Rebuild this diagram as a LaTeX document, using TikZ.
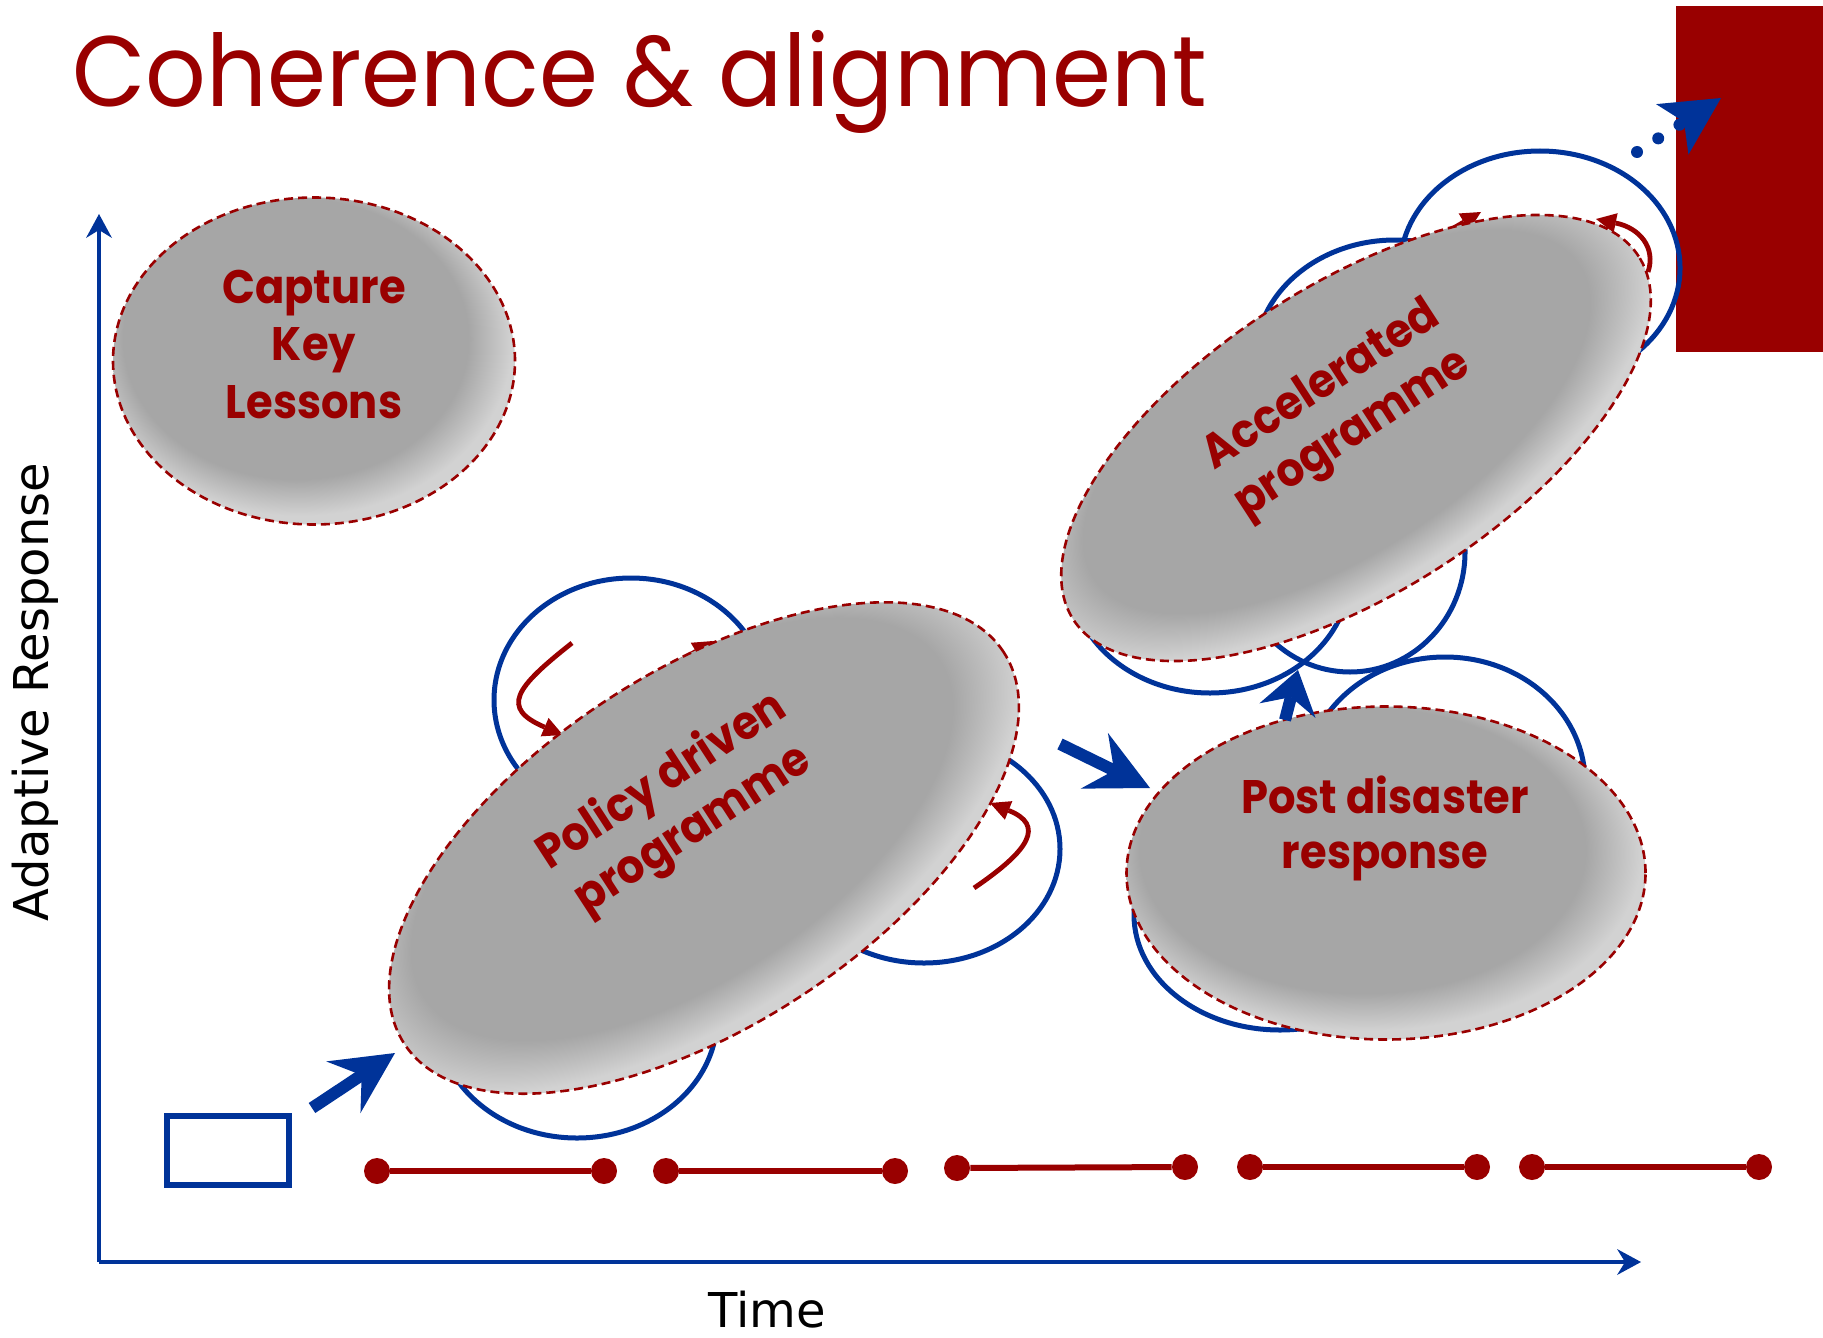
\documentclass[tikz,border=0pt]{standalone}
\usepackage{fontspec}
\setmainfont{DejaVu Sans}
\newfontfamily\titlefont{Poppins}[FakeStretch=0.95]
\newfontfamily\lblfont{Poppins}[FakeStretch=0.92]
\usetikzlibrary{arrows.meta,shapes.geometric,calc}
\definecolor{dred}{RGB}{153,0,0}
\definecolor{dblue}{RGB}{0,51,153}
\definecolor{ellgray}{RGB}{166,166,166}
\definecolor{elllight}{RGB}{210,210,210}
\pgfdeclareradialshading{ellfade}{\pgfpoint{-4bp}{6bp}}{color(0bp)=(ellgray); color(21.5bp)=(ellgray); color(26.5bp)=(elllight); color(50bp)=(elllight)}
\pgfdeclareradialshading{ellfaderot}{\pgfpoint{-1bp}{7bp}}{color(0bp)=(ellgray); color(21.5bp)=(ellgray); color(26.5bp)=(elllight); color(50bp)=(elllight)}
\newcommand\fadeell[6]{\begin{scope}[transform canvas={shift={(#1,#2)},rotate=#3}]\shade[shading=#6] (0,0) ellipse [x radius=#4pt, y radius=#5pt];\end{scope}}
\tikzset{
  bloop/.style={draw=dblue, line width=2.5pt},
  redarr/.style={draw=dred, line width=2.4pt, -{Triangle[length=10pt,width=10pt,line width=0pt]}},
  ellborder/.style={ellipse, draw=dred, line width=1.3pt, dash pattern=on 4.5pt off 2.5pt, inner sep=0pt},
  lbl/.style={text=dred, font=\lblfont\bfseries\fontsize{23.5}{28.75}\selectfont, align=center},
  bigarrow/.style={draw=dblue, line width=6pt, -{Stealth[length=31pt,width=31pt,inset=11pt,line width=0pt]}},
  axisline/.style={draw=dblue, line width=2pt, -{Stealth[length=12pt,width=13pt,inset=4pt,line width=0pt]}},
  tdot/.style={circle, fill=dred, inner sep=0pt, minimum size=13pt},
  tline/.style={draw=dred, line width=3pt},
}
\begin{document}
\begin{tikzpicture}[x=0.5pt,y=-0.5pt]
\useasboundingbox (0,0) rectangle (1823,1337);
% red block top right
\fill[dred] (1676,6) rectangle (1823,352);
% title
\node[anchor=base west, inner sep=0pt, text=dred, font=\titlefont\fontsize{50}{60}\selectfont] (title) at (72,107) {Coherence \& alignment};
% axes
\coordinate (org) at (99,1262);
\coordinate (ytop) at (99,214);
\coordinate (xend) at (1641,1262);
\draw[axisline] (org) -- (ytop);
\draw[axisline] (org) -- (xend);
\node[rotate=90, inner sep=0pt, font=\fontsize{24}{28}\selectfont] (ylab) at (35,692) {Adaptive Response};
\node[anchor=base, inner sep=0pt, font=\fontsize{24}{28}\selectfont] (xlab) at (767,1327) {Time};
% blue loops
\draw[bloop] (631,700) ellipse [x radius=68.5pt, y radius=61pt];
\draw[bloop] (924,849) ellipse [x radius=68pt, y radius=57pt];
\draw[bloop] (577,1018) ellipse [x radius=70pt, y radius=60pt];
\draw[bloop] (1445,782) ellipse [x radius=70pt, y radius=62.5pt];
\draw[bloop] (1280,915) ellipse [x radius=73pt, y radius=57.5pt];
\draw[bloop] (1210,573) ellipse [x radius=70pt, y radius=60pt];
\draw[bloop] (1350,552) ellipse [x radius=57.5pt, y radius=60pt];
\draw[bloop] (1395,360) ellipse [x radius=70pt, y radius=60pt];
\draw[bloop] (1540,268) ellipse [x radius=70pt, y radius=58.5pt];
% red loop arrows
\draw[redarr] (572,643) .. controls (515,688) and (500,708) .. (563,735);
\draw[redarr] (655,676) -- (713,641);
\draw[redarr] (974,888) .. controls (1030,850) and (1045,825) .. (990,803);
\draw[redarr] (1648,272) .. controls (1656,248) and (1640,228) .. (1596,219);
\draw[redarr] (1440,236) -- (1481,212);
% ellipses
\fadeell{314}{361}{0}{100.5}{81.75}{ellfade}
\node[ellborder, minimum width=201pt, minimum height=163.5pt] (cap) at (314,361) {};
\fadeell{704}{848}{33.2}{179}{88.5}{ellfaderot}
\node[ellborder, minimum width=358pt, minimum height=177pt, rotate=33.2] (pol) at (704,848) {};
\fadeell{1356}{438}{32.7}{168}{77}{ellfaderot}
\node[ellborder, minimum width=336pt, minimum height=154pt, rotate=32.7] (acc) at (1356,438) {};
\fadeell{1386}{873}{0}{129.75}{83.25}{ellfade}
\node[ellborder, minimum width=259.5pt, minimum height=166.5pt] (post) at (1386,873) {};
% labels
\node[lbl, anchor=base] (cap1) at (314,303) {Capture};
\node[lbl, anchor=base] (cap2) at (314,360) {Key};
\node[lbl, anchor=base] (cap3) at (314,418) {Lessons};
\node[lbl, anchor=base] (post1) at (1385,813) {Post disaster};
\node[lbl, anchor=base] (post2) at (1385,868) {response};
\node[lbl, rotate=33] (poltxt) at (678,806) {Policy driven\\programme};
\node[lbl, rotate=33] (acctxt) at (1338,411) {Accelerated\\programme};
% start box
\node[draw=dblue, line width=3pt, minimum width=61pt, minimum height=34.5pt, inner sep=0pt] (box) at (228,1150.5) {};
% big arrows
\coordinate (a1s) at (312,1108); \coordinate (a1e) at (395,1053);
\coordinate (a2s) at (1060,744); \coordinate (a2e) at (1150,788);
\coordinate (a3s) at (1285,720); \coordinate (a3e) at (1298,670);
\draw[bigarrow] (a1s) -- (a1e);
\draw[bigarrow] (a2s) -- (a2e);
\draw[draw=dblue, line width=6pt, -{Stealth[length=21pt,width=29pt,inset=7pt,line width=0pt]}] (a3s) -- (a3e);
% dotted arrow
\coordinate (d0) at (1637,152); \coordinate (d1) at (1721,98);
\draw[dblue, line width=6pt, line cap=round, dash pattern=on 0pt off 12.6pt, -{Stealth[length=29pt,width=30pt,inset=7pt,line width=0pt]}] (d0) -- (d1);
% timeline
\node[tdot] (t1a) at (377,1171) {}; \node[tdot] (t1b) at (604,1171) {};
\node[tdot] (t2a) at (666,1171) {}; \node[tdot] (t2b) at (895,1171) {};
\node[tdot] (t3a) at (957,1168) {}; \node[tdot] (t3b) at (1185,1167) {};
\node[tdot] (t4a) at (1250,1167) {}; \node[tdot] (t4b) at (1477,1167) {};
\node[tdot] (t5a) at (1532,1167) {}; \node[tdot] (t5b) at (1759,1167) {};
\draw[tline] (t1a) -- (t1b);
\draw[tline] (t2a) -- (t2b);
\draw[tline] (t3a) -- (t3b);
\draw[tline] (t4a) -- (t4b);
\draw[tline] (t5a) -- (t5b);
\end{tikzpicture}
\end{document}
